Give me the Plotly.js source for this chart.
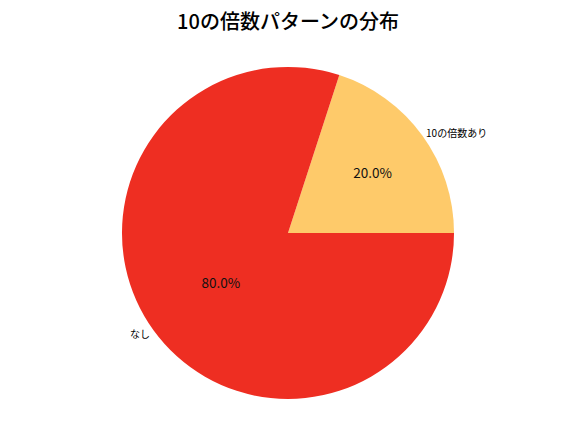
<!DOCTYPE html>
<html>
<head>
<meta charset="utf-8">
<script src="https://cdn.plot.ly/plotly-3.0.1.min.js"></script>
<style>html,body{margin:0;padding:0;background:#fff;}#chart{width:576px;height:432px;}</style>
</head>
<body>
<div id="chart"></div>
<script>
const labels = ["10の倍数あり", "なし"];
const values = [20, 80];
const colors = ["#FECA6A", "#EE2E22"];
const titleText = "10の倍数パターンの分布";

const FONT = "Noto Sans CJK JP, DejaVu Sans, sans-serif";
const domain = {x: [0, 1], y: [0.0764, 0.845]};
const total = values.reduce((a, b) => a + b, 0);
// first slice starts at 3 o'clock and runs counterclockwise (as in the reference)
const rot = 90 - values[0] / total * 360;

const pieIn = {
  type: "pie", labels: labels, values: values, sort: false,
  direction: "clockwise", rotation: rot,
  marker: {colors: colors, line: {width: 0}},
  textinfo: "percent", textposition: "inside",
  insidetextorientation: "horizontal",
  texttemplate: "%{percent:.1%}",
  textfont: {family: FONT, size: 13.5, color: "#111"},
  showlegend: false, hoverinfo: "skip", domain: domain
};
const pieOut = {
  type: "pie", labels: labels, values: values, sort: false,
  direction: "clockwise", rotation: rot,
  marker: {colors: ["rgba(0,0,0,0)", "rgba(0,0,0,0)"], line: {width: 0}},
  textinfo: "label", textposition: "outside",
  textfont: {family: FONT, size: 10, color: "#000"},
  showlegend: false, hoverinfo: "skip", domain: domain, automargin: false
};

Plotly.newPlot("chart", [pieIn, pieOut], {
  width: 576, height: 432,
  margin: {l: 0, r: 0, t: 0, b: 0},
  paper_bgcolor: "#fff",
  title: {text: titleText, font: {family: FONT, size: 20, color: "#000", weight: 500}, x: 0.5, xanchor: "center", y: 0.948, yanchor: "middle"}
}, {displayModeBar: false});
</script>
</body>
</html>
